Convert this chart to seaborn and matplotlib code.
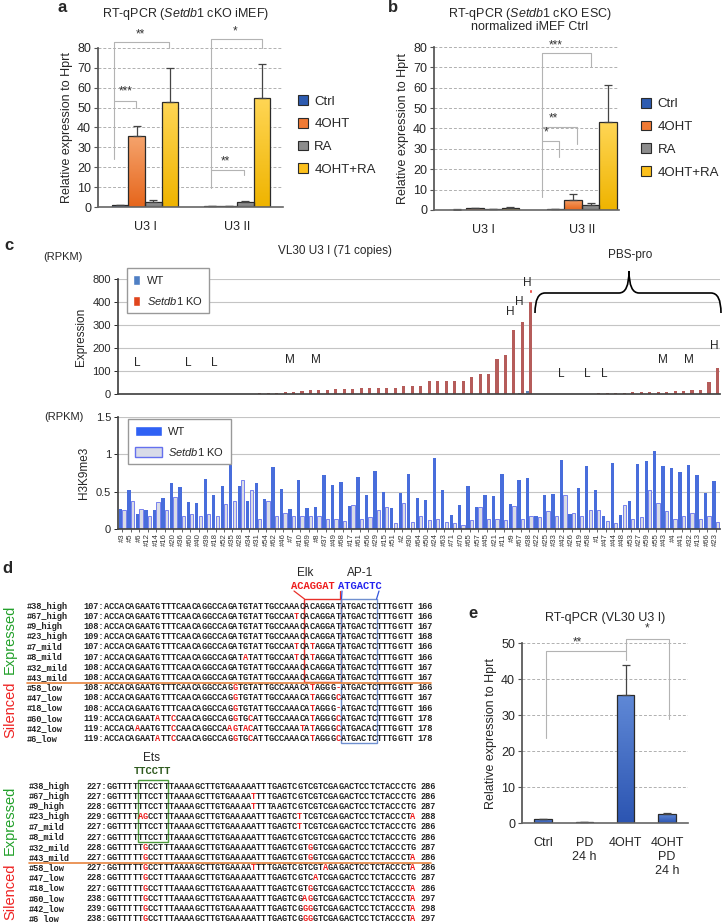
import numpy as np
import pandas as pd
import seaborn as sns
import matplotlib.pyplot as plt
from matplotlib.patches import Patch, Rectangle, PathPatch
from matplotlib.path import Path
from matplotlib.colors import LinearSegmentedColormap

W, H = 722, 922

# ---------------- data: panels a / b (RT-qPCR) ----------------
qpcr_groups = ['U3 I', 'U3 II']
qpcr_conds = ['Ctrl', '4OHT', 'RA', '4OHT+RA']
qpcr_colors = ['#2d5bb0', '#f07a34', '#8c8c8c', '#fcc01c']
# (bottom, top) shades for the bar gradients
qpcr_shades = [('#23509f', '#4d7acb'), ('#e6661c', '#f5a36c'),
               ('#777777', '#a6a6a6'), ('#efb400', '#ffd655')]

a_ctrl = [1.0, 0.4]
a_4oht = [35.5, 0.3]
a_ra = [2.7, 2.7]
a_combo = [53.0, 55.0]
a_ctrl_err = [0.1, 0.05]
a_4oht_err = [5.5, 0.05]
a_ra_err = [0.8, 0.3]
a_combo_err = [17.0, 17.0]

b_ctrl = [0.2, 0.4]
b_4oht = [0.8, 5.0]
b_ra = [0.3, 2.5]
b_combo = [1.2, 43.0]
b_ctrl_err = [0.05, 0.1]
b_4oht_err = [0.2, 3.0]
b_ra_err = [0.1, 1.0]
b_combo_err = [0.4, 18.5]

# brackets: x_left, x_right, y_left, y_top, y_right, label, label_x, label_y
a_brackets = [(-0.34, 0.26, 24, 83, 80, '**', -0.05, 84),
              (-0.34, -0.10, 53.4, 53.4, 50, '***', -0.21, 55),
              (0.72, 1.27, 9.4, 84.4, 80, '*', 0.98, 85.5),
              (0.72, 1.08, 18.6, 18.6, 16.1, '**', 0.87, 20)]
b_brackets = [(0.59, 1.09, 6.5, 77, 70, '***', 0.73, 78),
              (0.59, 0.95, 40.8, 40.8, 32.6, '**', 0.71, 42),
              (0.59, 0.77, 33.8, 33.8, 26, '*', 0.63, 35)]

# ---------------- data: panel c ----------------
copy_names = ['#3', '#5', '#6', '#12', '#14', '#16', '#20', '#36', '#60', '#40',
              '#39', '#18', '#52', '#35', '#28', '#34', '#31', '#54', '#62', '#46',
              '#7', '#10', '#69', '#8', '#37', '#49', '#68', '#17', '#61', '#56',
              '#29', '#15', '#51', '#2', '#30', '#64', '#50', '#24', '#63', '#71',
              '#70', '#65', '#57', '#45', '#21', '#11', '#9', '#67', '#38', '#22',
              '#25', '#33', '#42', '#26', '#19', '#58', '#1', '#47', '#44', '#48',
              '#53', '#27', '#59', '#55', '#43', '#4', '#41', '#32', '#13', '#66', '#23']
expr_wt = [0] * 46 + [1, 3, 12] + [0] * 22
expr_ko = [0.3, 0.3, 0.3, 0.3, 0.3, 0.3, 0.3, 0.3, 1, 1,
           2, 2, 2, 2, 2, 2, 3, 3, 3, 9,
           10, 12, 17, 17, 17, 22, 22, 22, 24, 24,
           24, 28, 28, 33, 33, 34, 55, 55, 58, 58,
           58, 74, 87, 88, 152, 170, 280, 312, 850, 1,
           1, 1, 1, 1, 1, 2, 3, 4, 4, 5,
           8, 8, 8, 10, 10, 11, 11, 16, 17, 52, 113]
k9_wt = [0.27, 0.52, 0.20, 0.26, 0.26, 0.41, 0.61, 0.56, 0.36, 0.35,
         0.67, 0.46, 0.58, 0.90, 0.58, 0.38, 0.62, 0.40, 0.83, 0.54,
         0.27, 0.66, 0.28, 0.29, 0.72, 0.59, 0.63, 0.31, 0.70, 0.46,
         0.78, 0.49, 0.28, 0.48, 0.73, 0.41, 0.39, 0.95, 0.52, 0.19,
         0.32, 0.58, 0.30, 0.45, 0.44, 0.73, 0.33, 0.66, 0.68, 0.18,
         0.46, 0.47, 0.93, 0.20, 0.55, 0.85, 0.52, 0.17, 0.88, 0.19,
         0.38, 0.87, 0.91, 1.05, 0.84, 0.82, 0.76, 0.86, 0.72, 0.48, 0.64]
k9_ko = [0.25, 0.37, 0.27, 0.17, 0.36, 0.26, 0.43, 0.17, 0.20, 0.17,
         0.20, 0.17, 0.34, 0.38, 0.65, 0.52, 0.13, 0.37, 0.17, 0.22,
         0.17, 0.17, 0.17, 0.17, 0.14, 0.13, 0.11, 0.32, 0.13, 0.16,
         0.25, 0.29, 0.08, 0.35, 0.10, 0.18, 0.12, 0.13, 0.09, 0.08,
         0.05, 0.12, 0.30, 0.13, 0.14, 0.12, 0.31, 0.14, 0.17, 0.16,
         0.24, 0.18, 0.46, 0.22, 0.18, 0.26, 0.26, 0.11, 0.08, 0.32,
         0.13, 0.16, 0.52, 0.35, 0.24, 0.14, 0.17, 0.21, 0.14, 0.18, 0.10]
expr_cap = 400           # axis break: values above are cut here
break_mark = (439, 456)  # small red dash above the break
# class labels: copy name, letter, label height (scaled axis)
class_labels = [('#6', 'L', 136), ('#60', 'L', 136), ('#18', 'L', 136),
                ('#7', 'M', 148), ('#8', 'M', 148),
                ('#9', 'H', 357), ('#67', 'H', 400), ('#38', 'H', 482),
                ('#42', 'L', 87), ('#58', 'L', 87), ('#47', 'L', 87),
                ('#43', 'M', 148), ('#32', 'M', 148), ('#23', 'H', 209)]

# ---------------- data: panel d (alignments) ----------------
row_names = ['#38_high', '#67_high', '#9_high', '#23_high', '#7_mild', '#8_mild',
             '#32_mild', '#43_mild', '#58_low', '#47_low', '#18_low', '#60_low',
             '#42_low', '#6_low']
seq1_start = [107, 107, 108, 109, 107, 107, 108, 108, 108, 108, 108, 119, 119, 119]
seq1_end = [166, 166, 167, 168, 166, 166, 167, 167, 166, 167, 166, 178, 178, 178]
seq1 = ['ACCACAGAATGTTTCAACAGGCCAGATGTATTGCCAAACACAGGATATGACTCTTTGGTT',
        'ACCACAGAATGTTTCAACAGGCCAGATGTATTGCCAATCACAGGATATGACTCTTTGGTT',
        'ACCACAGAATGTTTCAACAGGCCAGATGTATTGCCAAACACAGGATATGACTCTTTGGTT',
        'ACCACAGAATGTTTCAACAGGCCAGATGTATTGCCAAACACAGGATATGACTCTTTGGTT',
        'ACCACAGAATGTTTCAACAGGCCAGATGTATTGCCAATCATAGGATATGACTCTTTGGTT',
        'ACCACAGAATGTTTCAACAGGCCAGATATATTGCCAATCATAGGATATGACTCTTTGGTT',
        'ACCACAGAATGTTTCAACAGGCCAGATGTATTGCCAAACACAGGATATGACTCTTTGGTT',
        'ACCACAGAATGTTTCAACAGGCCAGATGTATTGCCAAACACAGGATATGACTCTTTGGTT',
        'ACCACAGAATGTTTCAACAGGCCAGGTGTATTGCCAAACATAGGG-ATGACTCTTTGGTT',
        'ACCACAGAATGTTTCAACAGGCCAGGTGTATTGCCAAACATAGGGCATGACTCTTTGGTT',
        'ACCACAGAATGTTTCAACAGGCCAGGTGTATTGCCAAACATAGGG-ATGACTCTTTGGTT',
        'ACCACAGAATATTCCAACAGGCCAGGTGCATTGCCAAACATAGGGCATGACTCTTTGGTT',
        'ACCACAAAATGTTCCAACAGGCCAAGTACATTGCCAAATATAGGGCATGACACTTTGGTT',
        'ACCACAGAATATTCCAACAGGCCAGGTGCATTGCCAAACATAGGGCATGACTCTTTGGTT']
seq1_red = [[], [38], [], [], [38, 41], [28, 38, 41], [], [],
            [26, 41, 46], [26, 41, 46], [26, 41, 46], [11, 14, 26, 29, 41, 46],
            [7, 14, 25, 26, 28, 29, 39, 41, 46], [11, 14, 26, 29, 41, 46]]
seq2_start = [227, 227, 228, 229, 227, 227, 228, 227, 227, 228, 227, 238, 239, 238]
seq2_end = [286, 286, 287, 288, 286, 286, 287, 286, 286, 287, 286, 297, 298, 297]
seq2 = ['GGTTTTTTCCTTTAAAAGCTTGTGAAAAATTTGAGTCGTCGTCGAGACTCCTCTACCCTG',
        'GGTTTTTTCCTTTAAAAGCTTGTGAAAATTTTGAGTCGTCGTCGAGACTCCTCTACCCTG',
        'GGTTTTTTCCTTTAAAAGCTTGTGAAAATTTTAAGTCGTCGTCGAGACTCCTCTACCCTG',
        'GGTTTTAGCCTTTAAAAGCTTGTGAAAAATTTGAGTCTTCGTCGAGACTCCTCTACCCTA',
        'GGTTTTTTCCTTTAAAAGCTTGTGAAAAATTTGAGTCTTCGTCGAGACTCCTCTACCCTG',
        'GGTTTTTTCCTTTAAAAGCTTGTGAAAAATTTGAGTCGTCGTCGAGACTCCTCTACCCTG',
        'GGTTTTTGCCTTTAAAAGCTTGTGAAAAATTTGAGTCGTGGTCGAGACTCCTCTACCCTG',
        'GGTTTTTGCCTTTAAAAGCTTGTGAAAAATTTGAGTCGTGGTCGAGACTCCTCTACCCTA',
        'GGTTTTTGCCTTTAAAAGCTTGTGAAAATTTTGAGTCGTCGTAGAGACTCCTCTACCCTA',
        'GGTTTTTGCCTTTAAAAGCTTGTGAAAAATTTGAGTCGTCATCGAGACTCCTCTACCCTG',
        'GGTTTTTGCCTTTAAAAGCTTGTGAAAAATTTGAGTCGTGGTCGAGACTCCTCTACCCTA',
        'GGTTTTTGCCTTTAAAAGCTTGTGAAAAATTTGAGTCGAGGTCGAGACTCCTCTACCCTA',
        'GGTTTTTGCCTTTAAAAGCTTGTGAAAAATTTGAGTCGGGGTCGAGACTCCTCTACCCTA',
        'GGTTTTTGCCTTTAAAAGCTTGTGAAAAATTTGAGTCGGGGTCGAGACTCCTCTACCCTA']
seq2_red = [[], [29], [29], [7, 8, 38, 60], [38], [], [8, 40], [8, 40, 60],
            [8, 29, 43, 60], [8, 41], [8, 40, 60], [8, 39, 40, 60],
            [8, 39, 40, 60], [8, 39, 40, 60]]

# ---------------- data: panel e ----------------
e_labels = ['Ctrl', 'PD\n24 h', '4OHT', '4OHT\nPD\n24 h']
e_vals = [1.0, 0.2, 35.5, 2.5]
e_err = [0.1, 0.05, 8.5, 0.4]
e_brackets = [(0.07, 2.0, 23.7, 47.8, 45.4, '**', 0.83, 48.6),
              (2.0, 3.05, 47.8, 51.2, 28.9, '*', 2.52, 52.3)]

# ---------------- style ----------------
sns.set_theme(style='white')
plt.rcParams['font.family'] = ['Liberation Sans', 'DejaVu Sans']
plt.rcParams['mathtext.fontset'] = 'custom'
plt.rcParams['mathtext.it'] = 'Liberation Sans:italic'
plt.rcParams['mathtext.rm'] = 'Liberation Sans'

fig = plt.figure(figsize=(W / 100, H / 100), dpi=100)


def box(l, t, r, b):
    return [l / W, 1 - b / H, (r - l) / W, (b - t) / H]


def gradient_bars(ax, bars, shade):
    # fill each bar with a vertical gradient (dark bottom, light top)
    cmap = LinearSegmentedColormap.from_list('bar', list(shade))
    grad = np.linspace(0, 1, 64).reshape(-1, 1)
    for bar in bars:
        x0, y0 = bar.get_x(), bar.get_y()
        im = ax.imshow(grad, extent=[x0, x0 + bar.get_width(), y0, y0 + bar.get_height()],
                       origin='lower', cmap=cmap, aspect='auto', zorder=0.9,
                       interpolation='bilinear')
        im.set_clip_path(bar)
        bar.set_facecolor('none')


def draw_brackets(ax, brackets):
    for x1, x2, yl, yt, yr, lab, tx, ty in brackets:
        ax.plot([x1, x1, x2, x2], [yl, yt, yt, yr], color='#b3b3b3', lw=0.8,
                clip_on=False, zorder=1)
        ax.text(tx, ty, lab, ha='center', va='bottom', fontsize=8.5, color='#333333')


def style_qpcr(ax, ymax, step):
    ax.set_ylim(0, ymax)
    ax.set_yticks(np.arange(0, ymax + 1, step))
    ax.yaxis.grid(True, ls=(0, (3, 2)), color='#b0b0b0', lw=0.7)
    ax.set_axisbelow(True)
    ax.patch.set_alpha(0)
    for s in ['top', 'right']:
        ax.spines[s].set_visible(False)
    ax.spines['left'].set_color('#555555')
    ax.spines['bottom'].set_color('#666666')
    ax.spines['bottom'].set_linewidth(1.2)
    ax.tick_params(axis='y', left=True, length=3, width=0.8, color='#555555',
                   labelsize=9, pad=2)
    ax.tick_params(axis='x', bottom=False, labelsize=9, pad=4)
    ax.set_xlabel('')
    ax.set_ylabel('Relative expression to Hprt', fontsize=9, labelpad=3)


def qpcr_panel(ax, vals, errs, brackets, legend_xy):
    df = pd.DataFrame({
        'group': qpcr_groups * 4,
        'cond': [c for c in qpcr_conds for _ in qpcr_groups],
        'value': [v for series in vals for v in series],
    })
    sns.barplot(data=df, x='group', y='value', hue='cond', order=qpcr_groups,
                hue_order=qpcr_conds, palette=qpcr_colors, width=0.72, gap=0,
                edgecolor='#2b2b2b', linewidth=0.9, errorbar=None, legend=False, ax=ax)
    for cont, err, shade in zip(ax.containers, errs, qpcr_shades):
        for bar, e in zip(cont, err):
            xc = bar.get_x() + bar.get_width() / 2
            ax.errorbar(xc, bar.get_height(), yerr=[[0], [e]], fmt='none',
                        ecolor='#444444', elinewidth=0.9, capsize=3, capthick=0.9)
        gradient_bars(ax, cont, shade)
    style_qpcr(ax, 80, 10)
    draw_brackets(ax, brackets)
    handles = [Patch(facecolor=c, edgecolor='#2b2b2b', lw=0.8) for c in qpcr_colors]
    ax.legend(handles, qpcr_conds, loc='center left', bbox_to_anchor=legend_xy,
              frameon=False, fontsize=9.5, handlelength=0.75, handleheight=0.75,
              handletextpad=0.5, labelspacing=0.78, borderpad=0, borderaxespad=0)


# ---------------- panel a ----------------
ax_a = fig.add_axes(box(98, 48, 283, 207))
qpcr_panel(ax_a, [a_ctrl, a_4oht, a_ra, a_combo],
           [a_ctrl_err, a_4oht_err, a_ra_err, a_combo_err], a_brackets, (1.08, 0.45))
ax_a.set_xlim(-0.51, 1.5)

# ---------------- panel b ----------------
ax_b = fig.add_axes(box(434, 47, 619, 210))
qpcr_panel(ax_b, [b_ctrl, b_4oht, b_ra, b_combo],
           [b_ctrl_err, b_4oht_err, b_ra_err, b_combo_err], b_brackets, (1.12, 0.44))
ax_b.set_xlim(-0.51, 1.38)

# ---------------- panel c (expression) ----------------
ax_ct = fig.add_axes(box(118, 279, 720, 394))
n = len(copy_names)
df_top = pd.DataFrame({
    'copy': copy_names * 2,
    'geno': ['WT'] * n + ['KO'] * n,
    'rpkm': list(np.minimum(expr_wt, expr_cap)) + list(np.minimum(expr_ko, expr_cap)),
})
sns.barplot(data=df_top, x='copy', y='rpkm', hue='geno', order=copy_names,
            hue_order=['WT', 'KO'], palette={'WT': '#4f7fc4', 'KO': '#c44d4b'},
            width=0.8, gap=0.1, linewidth=0, errorbar=None, legend=False, ax=ax_ct)
for bar, v in zip(ax_ct.containers[1], expr_ko):
    if v > expr_cap:
        ax_ct.bar(bar.get_x() + bar.get_width() / 2, break_mark[1] - break_mark[0],
                  bottom=break_mark[0], width=bar.get_width(), color='#e8302a',
                  clip_on=False)
ax_ct.set_xlim(-0.5, n - 0.5)
ax_ct.set_ylim(0, 500)
ax_ct.set_yticks([0, 100, 200, 300, 400, 500])
ax_ct.set_yticklabels(['0', '100', '200', '300', '400', '800'])
ax_ct.set_xticks([])
ax_ct.set_xlabel('')
ax_ct.set_ylabel('Expression', fontsize=8.5, labelpad=4)
ax_ct.yaxis.grid(True, color='#c4c4c4', lw=0.8)
ax_ct.set_axisbelow(True)
ax_ct.patch.set_alpha(0)
for s in ['top', 'right']:
    ax_ct.spines[s].set_visible(False)
ax_ct.spines['left'].set_color('#444444')
ax_ct.spines['bottom'].set_color('#444444')
ax_ct.tick_params(axis='y', left=True, length=3, width=0.7, labelsize=8, pad=2)
for name, letter, yv in class_labels:
    ax_ct.text(copy_names.index(name) - 0.2, yv, letter, ha='center', va='center',
               fontsize=8.5, clip_on=False)
ax_ct.legend([Patch(facecolor='#4f7fc4'), Patch(facecolor='#e0451d')],
             ['WT', r'$\mathit{Setdb1}$ KO'], loc='upper left',
             bbox_to_anchor=(0.005, 1.14), fontsize=8, frameon=True, fancybox=False,
             edgecolor='#999999', framealpha=1, handlelength=0.6, handleheight=1.0,
             handletextpad=0.6, labelspacing=0.8, borderpad=0.6)

# ---------------- panel c (H3K9me3) ----------------
ax_cb = fig.add_axes(box(118, 417, 720, 529))
df_bot = pd.DataFrame({
    'copy': copy_names * 2,
    'geno': ['WT'] * n + ['KO'] * n,
    'k9': k9_wt + k9_ko,
})
sns.barplot(data=df_bot, x='copy', y='k9', hue='geno', order=copy_names,
            hue_order=['WT', 'KO'], palette={'WT': '#2f61f4', 'KO': '#d8dbe8'},
            width=0.82, gap=0.05, linewidth=0, errorbar=None, legend=False, ax=ax_cb)
for bar in ax_cb.containers[1]:
    bar.set_edgecolor('#6470ee')
    bar.set_linewidth(0.6)
ax_cb.set_xlim(-0.5, n - 0.5)
ax_cb.set_ylim(0, 1.5)
ax_cb.set_yticks([0, 0.5, 1, 1.5])
ax_cb.set_yticklabels(['0', '0.5', '1', '1.5'])
ax_cb.set_xlabel('')
ax_cb.set_ylabel('H3K9me3', fontsize=8.5, labelpad=4)
ax_cb.yaxis.grid(True, color='#c4c4c4', lw=0.8)
ax_cb.set_axisbelow(True)
ax_cb.patch.set_alpha(0)
for s in ['top', 'right']:
    ax_cb.spines[s].set_visible(False)
ax_cb.spines['left'].set_color('#444444')
ax_cb.spines['bottom'].set_color('#444444')
ax_cb.tick_params(axis='y', left=True, length=3, width=0.7, labelsize=8, pad=2)
ax_cb.tick_params(axis='x', bottom=True, length=2, width=0.5, labelsize=5.6,
                  labelrotation=90, pad=1, labelcolor='#333333')
ax_cb.legend([Patch(facecolor='#2f61f4'), Patch(facecolor='#d8dbe8', edgecolor='#6470ee')],
             ['WT', r'$\mathit{Setdb1}$ KO'], loc='upper left',
             bbox_to_anchor=(0.008, 1.03), fontsize=8, frameon=True, fancybox=False,
             edgecolor='#999999', framealpha=1, handlelength=2.4, handleheight=1.0,
             handletextpad=0.6, labelspacing=0.8, borderpad=0.6)

# ---------------- panel e ----------------
ax_e = fig.add_axes(box(522, 643, 688, 823))
sns.barplot(x=e_labels, y=e_vals, color='#3a64c2', width=0.42, edgecolor='#2b2b2b',
            linewidth=0.9, errorbar=None, ax=ax_e)
for bar, e in zip(ax_e.containers[0], e_err):
    ax_e.errorbar(bar.get_x() + bar.get_width() / 2, bar.get_height(), yerr=[[0], [e]],
                  fmt='none', ecolor='#444444', elinewidth=0.9, capsize=3, capthick=0.9)
gradient_bars(ax_e, ax_e.containers[0], ('#2c55b2', '#5f88d6'))
style_qpcr(ax_e, 50, 10)
ax_e.set_xlim(-0.51, 3.51)
ax_e.tick_params(axis='x', labelsize=9, pad=4)
for lab in ax_e.get_xticklabels():
    lab.set_linespacing(1.25)
    lab.set_va('top')
draw_brackets(ax_e, e_brackets)

# ---------------- overlay: titles, labels, panel d ----------------
ov = fig.add_axes([0, 0, 1, 1], zorder=10)
ov.set_xlim(0, W)
ov.set_ylim(H, 0)
ov.axis('off')
ov.patch.set_alpha(0)

bold = dict(fontsize=12, fontweight='bold', ha='left', va='center')
ov.text(57, 8, 'a', **bold)
ov.text(388, 8, 'b', **bold)
ov.text(4, 245, 'c', **bold)
ov.text(2, 568, 'd', **bold)
ov.text(468, 613, 'e', **bold)

ov.text(186, 14, r'RT-qPCR ($\mathit{Setdb1}$ cKO iMEF)', ha='center', va='center', fontsize=9)
ov.text(530, 14, r'RT-qPCR ($\mathit{Setdb1}$ cKO ESC)', ha='center', va='center', fontsize=9)
ov.text(530, 27, 'normalized iMEF Ctrl', ha='center', va='center', fontsize=9)
ov.text(605, 618, 'RT-qPCR (VL30 U3 I)', ha='center', va='center', fontsize=9)

ov.text(43, 257, '(RPKM)', ha='left', va='center', fontsize=8)
ov.text(44, 417, '(RPKM)', ha='left', va='center', fontsize=8)
ov.text(335, 251, 'VL30 U3 I (71 copies)', ha='center', va='center', fontsize=8.5)
ov.text(630, 255, 'PBS-pro', ha='center', va='center', fontsize=8.5)

# curly brace over the PBS-pro copies
brace = Path([(535, 313), (535, 293), (545, 293), (619, 293), (629, 293), (629, 271),
              (629, 293), (639, 293), (711, 293), (721, 293), (721, 313)],
             [Path.MOVETO, Path.CURVE3, Path.CURVE3, Path.LINETO, Path.CURVE3, Path.CURVE3,
              Path.CURVE3, Path.CURVE3, Path.LINETO, Path.CURVE3, Path.CURVE3])
ov.add_patch(PathPatch(brace, facecolor='none', edgecolor='black', lw=1.2))

# alignment blocks: every base sits in its own monospace cell of cw pixels
cw = 5.15
mono_fs = cw / 0.6 * 0.72
mono = dict(family='Liberation Mono', fontweight='bold', fontsize=mono_fs, va='center')


def alignment(y0, name_x, seq_x, starts, ends, seqs, reds, sep_y):
    dy = 10.2
    for i, (nm, st, en, sq, rd) in enumerate(zip(row_names, starts, ends, seqs, reds)):
        y = y0 + i * dy
        pre = f'{st}:'
        ov.text(name_x, y, nm, color='#222222', ha='left', **mono)
        ov.text(seq_x + len(pre) * cw, y, pre, color='#222222', ha='right', **mono)
        for k, ch in enumerate(sq):
            ov.text(seq_x + (len(pre) + k + 0.5) * cw, y, ch, ha='center',
                    color='#ee1c1c' if (k + 1) in rd else '#222222', **mono)
        ov.text(seq_x + (len(pre) + len(sq) + 1) * cw, y, str(en), color='#222222',
                ha='left', **mono)
    ov.plot([name_x, 431], [sep_y, sep_y], color='#e8843e', lw=1.2)
    return dy


def colbox(seq_x, c1, c2, top, bottom, color):
    x1 = seq_x + (4 + c1 - 1) * cw
    x2 = seq_x + (4 + c2) * cw
    ov.add_patch(Rectangle((x1, top), x2 - x1, bottom - top, fill=False,
                           edgecolor=color, lw=1.0))
    return x1, x2


y1 = 606
dy = alignment(y1, 27, 83, seq1_start, seq1_end, seq1, seq1_red, y1 + 7.5 * 10.2)
ex1, ex2 = colbox(83, 40, 46, y1 - 7, y1 + 7 * dy + 4.5, '#e8302a')
ax1, ax2 = colbox(83, 47, 53, y1 - 7, y1 + 13 * dy + 4.5, '#7090d0')
ov.text(305, 573, 'Elk', ha='center', va='center', fontsize=8.5)
ov.text(360, 573, 'AP-1', ha='center', va='center', fontsize=8.5)
ov.text(313, 586, 'ACAGGAT', color='#ee1c1c', family='Liberation Mono',
        fontweight='bold', fontsize=7.6, ha='center', va='center')
ov.text(360, 586, 'ATGACTC', color='#2222ee', family='Liberation Mono',
        fontweight='bold', fontsize=7.6, ha='center', va='center')
ov.plot([294, ex1], [591, y1 - 7], color='#e8302a', lw=0.9)
ov.plot([ex2 - 1, ex2 - 1], [591, y1 - 7], color='#e8302a', lw=0.9)
ov.plot([342, ax1 + 1], [591, y1 - 7], color='#3355dd', lw=0.9)
ov.plot([379, ax2], [591, y1 - 7], color='#3355dd', lw=0.9)

y2 = 786
alignment(y2, 29, 86, seq2_start, seq2_end, seq2, seq2_red, y2 + 7.5 * 10.2)
colbox(86, 7, 12, y2 - 6.5, y2 + 5 * dy + 4.5, '#4a9a3a')
ov.text(152, 758, 'Ets', ha='center', va='center', fontsize=8.5)
ov.text(153, 771, 'TTCCTT', color='#2f5a1f', family='Liberation Mono',
        fontweight='bold', fontsize=7.6, ha='center', va='center')

for yc_e, yc_s in [(639, 710), (820, 892)]:
    ov.text(10, yc_e, 'Expressed', color='#22a02a', rotation=90, ha='center',
            va='center', fontsize=10.5)
    ov.text(10, yc_s, 'Silenced', color='#ee2222', rotation=90, ha='center',
            va='center', fontsize=10.5)

fig.savefig('out.png', dpi=100)
